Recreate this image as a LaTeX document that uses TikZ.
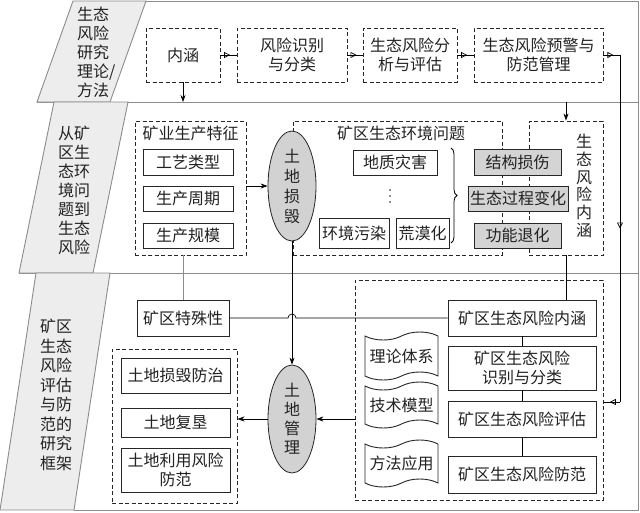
\documentclass[tikz,border=0pt]{standalone}
\usepackage{fontspec}
\setmainfont{Noto Sans CJK SC}
\usetikzlibrary{arrows.meta,shapes.geometric,shapes.symbols,decorations.pathreplacing,decorations.markings}
\definecolor{txt}{HTML}{222222}
\definecolor{framecol}{HTML}{8C8C8C}
\definecolor{tabfill}{HTML}{EDEDED}
\definecolor{grayfill}{HTML}{D4D4D4}
\definecolor{ellfill}{HTML}{D2D2D2}
\tikzset{
  base/.style={font=\fontsize{16}{19}\selectfont, text=txt, align=center, inner sep=0pt},
  dbox/.style={draw=black!85, dash pattern=on 4pt off 2.5pt, line width=0.9pt, inner sep=0pt},
  sbox/.style={base, draw=black!85, line width=0.9pt, rectangle, fill=white},
  gbox/.style={sbox, fill=grayfill},
  ell/.style={ellipse, draw=black!85, fill=ellfill, line width=0.8pt, inner sep=0pt},
  tapebox/.style={base, tape, draw=black!85, line width=0.9pt, fill=white, tape bend height=8pt},
  tabshape/.style={fill=tabfill, draw=framecol, line width=0.9pt},
  frameline/.style={draw=framecol, line width=0.9pt},
  arr/.style={-{Stealth[length=7pt,width=5pt]}, line width=0.7pt, black},
  conn/.style={line width=0.7pt, black},
  oarr/.style={conn, postaction=decorate, decoration={markings, mark=at position #1 with {\arrow{Triangle[open,length=6pt,width=6pt,line width=0.7pt]}}}},
  oarr/.default=0.5
}
\begin{document}
\begin{tikzpicture}[x=1pt,y=-1pt]
\useasboundingbox (0,0) rectangle (640,512);
% frame
\draw[frameline] (146,1) -- (638,1) -- (638,510) -- (74,510);
\draw[frameline] (37,102) -- (638,102);
\draw[frameline] (19,273) -- (638,273);
% tabs
\draw[tabshape] (73,1) -- (146,1) -- (110,102) -- (37,102) -- cycle;
\draw[tabshape] (54,102) -- (128,102) -- (93,273) -- (19,273) -- cycle;
\draw[tabshape] (36,273) -- (110,273) -- (74,510) -- (0,510) -- cycle;
\node[base, align=left, anchor=west] (tt1) at (77,52) {生态\\风险\\研究\\理论/\\方法};
\node[base] (tt2) at (74,190) {从矿\\区生\\态环\\境问\\题到\\生态\\风险};
\node[base, font=\fontsize{16}{19.5}\selectfont] (tt3) at (56,395) {矿区\\生态\\风险\\评估\\与防\\范的\\研究\\框架};

% band 1
\node[base, dbox, minimum width=74, minimum height=54] (n1) at (183,55) {内涵};
\node[base, dbox, minimum width=110, minimum height=54] (n2) at (292,55) {风险识别\\与分类};
\node[base, dbox, minimum width=94, minimum height=54] (n3) at (410,55) {生态风险分\\析与评估};
\node[base, dbox, minimum width=129, minimum height=54] (n4) at (538.5,55) {生态风险预警与\\防范管理};
\draw[oarr=0.6] (n1.east) -- (n2.west);
\draw[oarr=0.6] (n2.west -| n2.east) -- (n3.west);
\draw[oarr=0.6] (n3.east) -- (n4.west);
\coordinate (c1) at (620,55);
\coordinate (c2) at (620,402);
\coordinate (c3) at (603,402);
\draw[oarr=0.6] (n4.east) -- (c1);
\draw[oarr=0.5] (c1) -- (c2);
\draw[oarr=0.6] (c2) -- (c3);
\coordinate (d1) at (183,102);
\coordinate (d2) at (566,102);
\draw[arr] (n1.south) -- (d1);

% band 2 dashed containers
\node[dbox, minimum width=111, minimum height=134] (g) at (190.5,188) {};
\node[dbox, minimum width=209, minimum height=134] (p) at (397.5,188) {};
\node[dbox, minimum width=74, minimum height=134] (r) at (566,188) {};
\node[base] (gl) at (190.5,133) {矿业生产特征};
\node[base] (pl) at (401,133) {矿区生态环境问题};
\node[base, font=\fontsize{16}{17.7}\selectfont] (rl) at (584,186) {生\\态\\风\\险\\内\\涵};
\draw[arr] (d2) -- (r.north);

\node[sbox, minimum width=90, minimum height=26] (b1) at (188,162) {工艺类型};
\node[sbox, minimum width=90, minimum height=25] (b2) at (188,198.5) {生产周期};
\node[sbox, minimum width=90, minimum height=25] (b3) at (188,235.5) {生产规模};

\node[ell, minimum width=48, minimum height=110] (e1) at (292,186) {};
\node[base, font=\fontsize{16}{20}\selectfont] (e1t) at (e1) {土\\地\\损\\毁};
\draw[arr] (g.east |- e1.west) -- (e1.west);

\node[sbox, minimum width=84, minimum height=25] (q1) at (395,162.5) {地质灾害};
\fill[txt] (390,190) circle (0.9) (390,196) circle (0.9) (390,202) circle (0.9);
\node[sbox, minimum width=70, minimum height=30] (q2) at (354,233) {环境污染};
\node[sbox, minimum width=53, minimum height=30] (q3) at (422.5,233) {荒漠化};
\draw[decorate, decoration={brace, amplitude=6pt}, line width=0.8pt, black] (451,148) -- (451,243);

\node[gbox, minimum width=87, minimum height=26] (s1) at (517.5,162) {结构损伤};
\node[gbox, minimum width=100, minimum height=25, inner sep=1pt] (s2) at (518,198.5) {生态过程变化};
\node[gbox, minimum width=87, minimum height=25] (s3) at (517.5,235.5) {功能退化};

% band 3
\node[sbox, minimum width=92, minimum height=36] (k) at (183,318) {矿区特殊性};
\draw[conn, framecol] (k.north |- g.south) -- (k.north);

\node[dbox, minimum width=125, minimum height=154] (L) at (174.5,426) {};
\node[sbox, minimum width=109, minimum height=35] (l1) at (175.5,375.5) {土地损毁防治};
\node[sbox, minimum width=109, minimum height=29] (l2) at (175.5,422.5) {土地复垦};
\node[sbox, minimum width=109, minimum height=44] (l3) at (175.5,470) {土地利用风险\\防范};

\node[ell, minimum width=48, minimum height=108] (e2) at (292,419) {};
\node[base] (e2t) at (e2) {土\\地\\管\\理};

\node[dbox, minimum width=248, minimum height=220] (R) at (479,390) {};
\node[sbox, minimum width=148, minimum height=36] (m1) at (522,318) {矿区生态风险内涵};
\node[sbox, minimum width=148, minimum height=44] (m2) at (522,368) {矿区生态风险\\识别与分类};
\node[sbox, minimum width=148, minimum height=36] (m3) at (522,419) {矿区生态风险评估};
\node[sbox, minimum width=148, minimum height=37] (m4) at (522,474.5) {矿区生态风险防范};
\draw[conn] (m1.south) -- (m2.north);
\draw[conn] (m2.south) -- (m3.north);
\draw[conn] (m3.south) -- (m4.north);

\node[tapebox, minimum width=73, minimum height=48] (t1) at (401.5,356) {理论体系};
\node[tapebox, minimum width=73, minimum height=46] (t2) at (401.5,405) {技术模型};
\node[tapebox, minimum width=73, minimum height=47] (t3) at (401.5,463.5) {方法应用};

% connectors
\draw[conn] (r.south) -- (r.south |- m1.north);
\draw[arr] (e1.south) -- (e2.north);
\coordinate (h1) at (288,318);
\draw[conn] (k.east) -- (h1) arc (180:360:4) -- (m1.west);
\draw[arr] (R.west |- e2.east) -- (e2.east);
\draw[arr] (e2.west) -- (e2.west -| L.east);
\end{tikzpicture}
\end{document}
